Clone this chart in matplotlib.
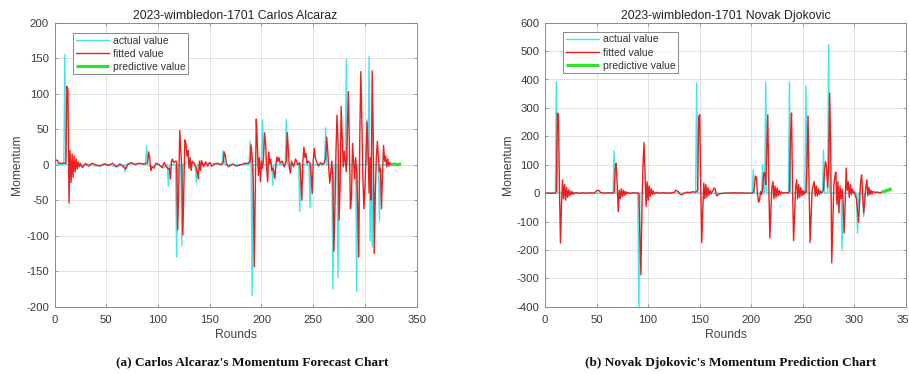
import matplotlib
matplotlib.use("Agg")
import matplotlib.pyplot as plt

# ---------------- data (round, value) ----------------
alcaraz_actual = [(0,0),(9,0),(10,155),(11,0),(25,-2),(30,2),(40,-2),(50,1),(60,-3),(67,0),(68,-10),(69,0),
    (80,2),(88,0),(89,27),(90,0),(95,-3),(100,2),(105,-5),(109,0),(110,-30),(111,0),(117,0),(118,-130),(119,0),
    (122,0),(123,-114),(124,0),(130,5),(136,0),(137,-25),(138,0),(150,2),(162,0),(163,20),(164,0),(188,0),
    (189,33),(190,0),(191,-184),(192,0),(200,0),(201,63),(202,0),(210,0),(211,-29),(212,0),(223,0),(224,64),
    (225,0),(236,0),(237,-66),(238,0),(246,0),(247,-60),(248,0),(261,0),(262,52),(263,0),(268,0),(269,-175),
    (270,0),(273,0),(274,-159),(275,0),(281,0),(282,148),(283,0),(291,0),(292,-179),(293,0),(301,0),(302,63),
    (303,0),(304,152),(305,-107),(306,0),(307,-116),(308,0),(313,0),(314,-79),(315,0),(325,0)]

alcaraz_fitted = [(0,7),(3,6),(4,2),(11,2),(12,110),(13,105),(14,-54),(15,20),(16,-25),(17,15),(18,-18),
    (19,12),(20,-10),(21,8),(22,-6),(23,4),(24,-3),(25,2),(27,-4),(30,1),(33,-2),(36,2),(40,0),(44,-2),(48,1),
    (52,-1),(56,2),(60,-3),(63,1),(66,-2),(69,-6),(71,1),(74,3),(78,0),(82,2),(86,1),(89,2),(90,4),(91,18),
    (92,10),(93,-8),(94,-3),(96,-5),(98,2),(101,0),(104,-4),(106,3),(108,-3),(110,-6),(111,-5),(112,-20),
    (113,5),(114,8),(115,3),(117,5),(118,4),(119,-92),(120,-40),(121,48),(122,20),(123,-5),(124,-99),(125,-30),
    (126,35),(127,30),(128,12),(129,20),(130,-5),(131,10),(132,-8),(133,5),(135,2),(137,-5),(138,-10),
    (139,-20),(140,5),(141,-8),(142,6),(144,-3),(146,4),(148,-2),(150,3),(152,-2),(155,1),(158,2),(161,0),
    (163,3),(164,18),(165,14),(166,2),(168,-3),(172,1),(176,-2),(180,0),(184,2),(187,2),(189,4),(190,28),
    (191,10),(192,-20),(193,-144),(194,-40),(195,64),(196,30),(197,-15),(198,10),(199,-24),(200,5),(201,-5),
    (202,10),(203,45),(204,30),(205,-5),(206,-24),(207,18),(208,2),(209,8),(210,-8),(211,-5),(212,-10),
    (213,-19),(214,0),(215,11),(216,5),(217,10),(218,2),(220,5),(222,-3),(224,5),(225,45),(226,20),(227,-5),
    (228,-12),(229,5),(231,-3),(233,8),(235,0),(237,3),(238,-20),(239,-50),(240,5),(241,25),(242,10),(243,16),
    (244,2),(245,5),(247,2),(248,-15),(249,-41),(250,5),(251,23),(252,10),(253,5),(255,-2),(257,3),(259,0),
    (261,4),(262,10),(263,39),(264,20),(265,-5),(266,-26),(267,-10),(268,5),(269,-20),(270,-122),(271,-60),
    (272,20),(273,70),(274,30),(275,-78),(276,-30),(277,82),(278,40),(279,-3),(280,19),(281,5),(282,-10),
    (283,50),(284,103),(285,20),(286,-62),(287,-45),(288,30),(289,5),(290,-20),(291,10),(292,-10),(293,-60),
    (294,-130),(295,40),(296,131),(297,60),(298,-20),(299,-62),(300,-30),(301,10),(302,60),(303,20),(304,-40),
    (305,10),(306,-50),(307,132),(308,40),(309,-125),(310,-40),(311,10),(312,33),(313,10),(314,-10),(315,-5),
    (316,-62),(317,-10),(318,27),(319,5),(320,12),(321,-3),(322,8),(323,-2),(324,3),(325,0)]

alcaraz_pred = [(325,0),(328,1),(331,0),(335,1)]

djokovic_actual = [(0,0),(10,0),(11,390),(12,0),(66,0),(67,149),(68,0),(90,0),(91,-420),(92,0),(146,0),
    (147,387),(148,0),(201,0),(202,82),(203,0),(210,0),(211,102),(212,0),(213,0),(214,390),(215,0),(236,0),
    (237,390),(238,0),(252,0),(253,378),(254,0),(269,0),(270,152),(271,0),(274,0),(275,524),(276,0),(287,0),
    (288,-200),(289,0),(302,0),(303,-141),(304,0),(308,0),(309,-82),(310,0),(326,0)]

djokovic_fitted = [(1,0),(10,0),(11,5),(12,282),(13,278),(14,20),(15,-176),(16,-40),(17,47),(18,-20),
    (19,30),(20,-25),(21,20),(22,-15),(23,12),(24,-10),(25,7),(26,-5),(27,4),(28,-3),(30,2),(33,-1),(36,1),
    (40,0),(44,1),(48,0),(50,8),(52,10),(54,2),(57,0),(62,1),(66,0),(67,2),(68,80),(69,105),(70,30),(71,-65),
    (72,10),(73,-20),(74,15),(75,-12),(76,10),(77,-8),(78,6),(79,-4),(80,3),(82,-1),(85,1),(89,0),(91,0),
    (92,-150),(93,-288),(94,-50),(95,100),(96,178),(97,70),(98,-47),(99,40),(100,-25),(101,25),(102,-12),
    (103,15),(104,-5),(105,8),(106,-3),(108,3),(110,0),(115,1),(120,0),(125,2),(127,10),(129,6),(131,-4),
    (133,-6),(135,0),(137,3),(140,2),(144,5),(146,3),(147,5),(148,10),(149,270),(150,276),(151,20),(152,-174),
    (153,-60),(154,35),(155,-20),(156,30),(157,-15),(158,20),(159,-8),(160,10),(161,-3),(162,5),(163,10),
    (164,18),(165,15),(166,-5),(167,-10),(168,-3),(170,-2),(175,0),(185,1),(195,0),(201,0),(202,2),(203,20),
    (204,60),(205,55),(206,0),(207,-32),(208,-25),(209,5),(210,-5),(211,15),(212,70),(213,72),(214,30),
    (215,150),(216,276),(217,20),(218,-158),(219,-60),(220,20),(221,41),(222,-20),(223,25),(224,-15),(225,18),
    (226,-10),(227,10),(228,-5),(229,5),(230,0),(233,2),(236,0),(237,5),(238,200),(239,282),(240,20),
    (241,-167),(242,-70),(243,20),(244,47),(245,-20),(246,30),(247,-15),(248,20),(249,-10),(250,10),(251,-5),
    (252,5),(253,2),(254,100),(255,272),(256,30),(257,-174),(258,-80),(259,10),(260,25),(261,41),(262,-10),
    (263,25),(264,-10),(265,15),(266,-5),(267,8),(268,0),(269,5),(270,10),(271,80),(272,111),(273,90),
    (274,20),(275,100),(276,352),(277,150),(278,-246),(279,-106),(280,20),(281,60),(282,74),(283,-40),
    (284,40),(285,-70),(286,25),(287,-20),(288,15),(289,-30),(290,-141),(291,-40),(292,88),(293,10),(294,40),
    (295,-15),(296,30),(297,-5),(298,15),(299,0),(300,5),(301,-10),(302,-20),(303,-60),(304,-103),(305,-30),
    (306,40),(307,64),(308,-10),(309,-70),(310,-30),(311,20),(312,47),(313,-10),(314,20),(315,-5),(316,10),
    (317,-3),(318,6),(320,2),(322,4),(324,1),(326,2)]

djokovic_pred = [(326,2),(329,6),(332,10),(336,15)]

titles = ["2023-wimbledon-1701 Carlos Alcaraz", "2023-wimbledon-1701 Novak Djokovic"]
captions = ["(a) Carlos Alcaraz's Momentum Forecast Chart", "(b) Novak Djokovic's Momentum Prediction Chart"]
legend_labels = ["actual value", "fitted value", "predictive value"]
x_ticks = [0, 50, 100, 150, 200, 250, 300, 350]
y_ticks_a = [-200, -150, -100, -50, 0, 50, 100, 150, 200]
y_ticks_b = [-400, -300, -200, -100, 0, 100, 200, 300, 400, 500, 600]

# ---------------- figure ----------------
plt.rcParams['font.family'] = ['Liberation Sans', 'DejaVu Sans']
plt.rcParams['axes.unicode_minus'] = False
W, H = 909, 374
fig = plt.figure(figsize=(W / 100, H / 100), dpi=100)

C_ACT = '#3fe6ee'
C_FIT = '#e8201f'
C_PRED = '#2fe22f'

def make_panel(rect, actual, fitted, pred, title, yticks, ylim, legend_anchor):
    ax = fig.add_axes(rect)
    ax.set_facecolor('white')
    xa, ya = zip(*actual)
    xf, yf = zip(*fitted)
    xp, yp = zip(*pred)
    la, = ax.plot(xa, ya, color=C_ACT, lw=1.0)
    lf, = ax.plot(xf, yf, color=C_FIT, lw=1.0)
    lp, = ax.plot(xp, yp, color=C_PRED, lw=2.3, solid_capstyle='butt')
    ax.set_xlim(0, 350)
    ax.set_ylim(*ylim)
    ax.set_xticks(x_ticks)
    ax.set_yticks(yticks)
    ax.grid(True, color='#e0e0e0', lw=0.7)
    ax.set_axisbelow(True)
    for s in ax.spines.values():
        s.set_color('#8a8a8a')
        s.set_linewidth(0.7)
    ax.tick_params(direction='in', length=2.5, width=0.6, color='#8a8a8a',
                   labelsize=8.2, labelcolor='#3a3a3a', pad=4, top=True, right=True)
    ax.tick_params(axis='x', pad=6)
    ax.set_title(title, fontsize=8.8, color='#222222', pad=3)
    ax.set_xlabel('Rounds', fontsize=8.7, color='#444444', labelpad=3)
    ax.set_ylabel('Momentum', fontsize=8.7, color='#444444', labelpad=2)
    leg = ax.legend([la, lf, lp], legend_labels, loc='upper left', bbox_to_anchor=legend_anchor,
                    borderaxespad=0, fontsize=7.5, frameon=True, fancybox=False,
                    handlelength=3.2, handletextpad=0.35, labelspacing=0.3, borderpad=0.25)
    leg.get_frame().set_edgecolor('#6a6a6a')
    leg.get_frame().set_linewidth(0.7)
    for t in leg.get_texts():
        t.set_color('#333333')
    return ax

make_panel([54.5 / W, 67.3 / H, 362.2 / W, 284 / H], alcaraz_actual, alcaraz_fitted, alcaraz_pred,
           titles[0], y_ticks_a, (-200, 200), (0.051, 0.964))
make_panel([545 / W, 67.3 / H, 361 / W, 284 / H], djokovic_actual, djokovic_fitted, djokovic_pred,
           titles[1], y_ticks_b, (-400, 600), (0.050, 0.968))

fig.text(252 / W, 1 - 362 / H, captions[0], ha='center', va='center', fontsize=9.6,
         fontweight='bold', family=['Liberation Serif', 'DejaVu Serif'], color='#111111')
fig.text(731 / W, 1 - 363 / H, captions[1], ha='center', va='center', fontsize=9.6,
         fontweight='bold', family=['Liberation Serif', 'DejaVu Serif'], color='#111111')

fig.savefig('out.png', dpi=100, facecolor='white')
